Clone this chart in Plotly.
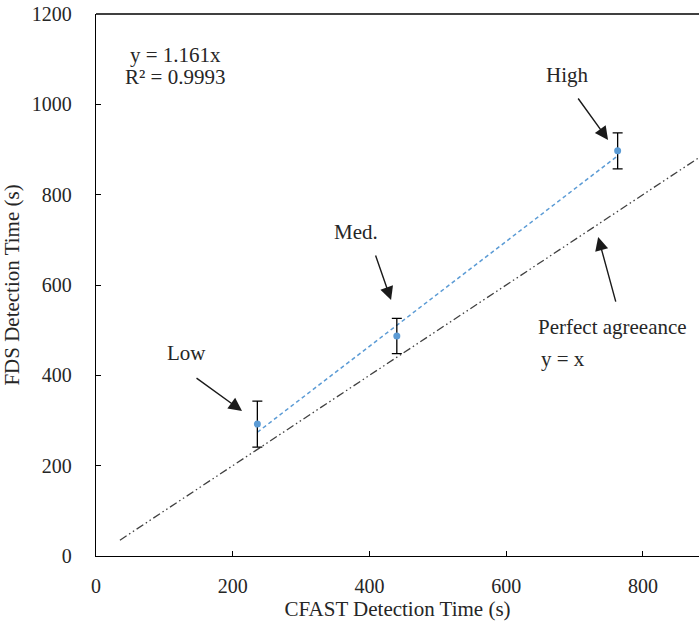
import plotly.graph_objects as go

# Data
cases = ["Low", "Med.", "High"]
cfast_time = [236, 440, 763]
fds_time = [292, 487, 897]
fds_error = [51, 39, 40]
fit_slope = 1.161
fit_x = [236, 763]
perfect_x = [35, 900]

x_ticks = [0, 200, 400, 600, 800]
y_ticks = [0, 200, 400, 600, 800, 1000, 1200]

FONT = "Liberation Serif, Times New Roman, serif"
TXT = "#262626"

fig = go.Figure()

# Perfect agreement y = x
fig.add_trace(go.Scatter(
    x=perfect_x, y=perfect_x, mode="lines",
    line=dict(color="#404040", width=1.3, dash="8px,3px,1.5px,3px,1.5px,3px"),
    showlegend=False, hoverinfo="skip"))

# Trendline y = 1.161x
fig.add_trace(go.Scatter(
    x=fit_x, y=[fit_slope * v for v in fit_x], mode="lines",
    line=dict(color="#5B9BD5", width=1.5, dash="4px,3px"),
    showlegend=False, hoverinfo="skip"))

# Data points with error bars
fig.add_trace(go.Scatter(
    x=cfast_time, y=fds_time, mode="markers",
    marker=dict(color="#5B9BD5", size=7),
    error_y=dict(type="data", array=fds_error, visible=True,
                 color="#000000", thickness=1.3, width=5),
    showlegend=False))

annotations = []
text_pos = {"Low": (133, 449), "Med.": (380, 717), "High": (690, 1065)}
arrow_pos = {"Low": (213.6, 321, -47, -34),
             "Med.": (431.6, 566.7, -16, -46),
             "High": (749, 921, -31, -43)}
for c in cases:
    tx, ty = text_pos[c]
    annotations.append(dict(x=tx, y=ty, text=c, showarrow=False,
                            font=dict(family=FONT, size=21, color=TXT)))
    hx, hy, ax, ay = arrow_pos[c]
    annotations.append(dict(x=hx, y=hy, text="", showarrow=True, ax=ax, ay=ay,
                            arrowhead=2, arrowsize=1.9, arrowwidth=1.4,
                            arrowcolor="#1a1a1a"))

annotations.append(dict(x=734.5, y=706, text="", showarrow=True, ax=18, ay=66,
                        arrowhead=2, arrowsize=1.9, arrowwidth=1.4,
                        arrowcolor="#1a1a1a"))
annotations.append(dict(x=756, y=507, text="Perfect agreeance", showarrow=False,
                        font=dict(family=FONT, size=21, color=TXT)))
annotations.append(dict(x=683, y=436, text="y = x", showarrow=False,
                        font=dict(family=FONT, size=21, color=TXT)))
annotations.append(dict(x=115.6, y=1109, text="y = 1.161x", showarrow=False,
                        font=dict(family=FONT, size=21, color=TXT)))
annotations.append(dict(x=115.6, y=1061, text="R² = 0.9993", showarrow=False,
                        font=dict(family=FONT, size=21, color=TXT)))

fig.update_layout(
    width=699, height=625,
    margin=dict(l=96, r=0, t=14, b=69),
    paper_bgcolor="white", plot_bgcolor="white",
    font=dict(family=FONT, size=20, color=TXT),
    annotations=annotations,
    shapes=[dict(type="line", xref="paper", yref="paper", x0=0, x1=1, y0=1, y1=1,
                 line=dict(color="#000000", width=1.3))],
    xaxis=dict(range=[0, 882], tickvals=x_ticks, ticks="inside", ticklen=5,
               tickcolor="#000000", showline=True, linecolor="#000000", linewidth=1.3,
               showgrid=False, zeroline=False, automargin=False,
               ticklabeloverflow="allow",
               title=dict(text="CFAST Detection Time (s)", font=dict(size=21), standoff=4),
               tickfont=dict(size=20), ticklabelstandoff=12),
    yaxis=dict(range=[0, 1200], tickvals=y_ticks, ticks="inside", ticklen=5,
               tickcolor="#000000", showline=True, linecolor="#000000", linewidth=1.3,
               showgrid=False, zeroline=False, automargin=False,
               ticklabeloverflow="allow",
               title=dict(text="FDS Detection Time (s)", font=dict(size=21), standoff=8),
               tickfont=dict(size=20), ticklabelstandoff=19),
)

# remove the default 8px page margin so the figure fills the window exactly
fig.write_html("out.html",
               config={"displayModeBar": False},
               post_script="document.body.style.margin='0';document.body.style.overflow='hidden';")
